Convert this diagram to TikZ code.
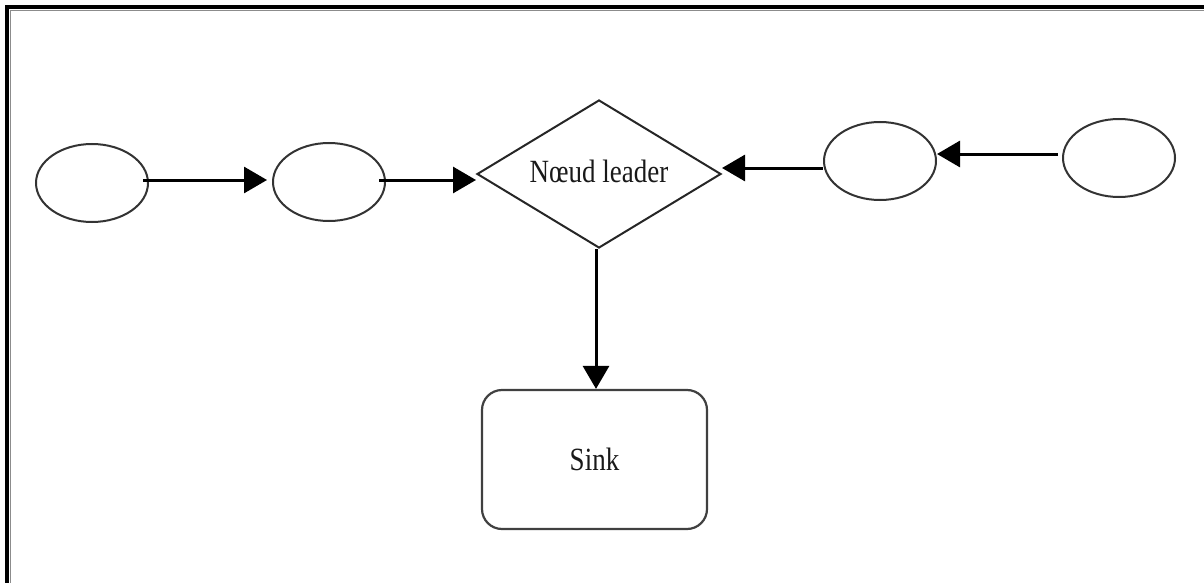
\documentclass[tikz,border=0pt]{standalone}
\usepackage{fontspec}
\usepackage{graphicx}
\setmainfont{Liberation Serif}
\usetikzlibrary{shapes.geometric,arrows.meta}
\begin{document}
\begin{tikzpicture}[x=0.5pt,y=-0.5pt,
  frameline/.style={line width=2pt,black},
  member/.style={ellipse,draw=black!80,line width=1pt,minimum width=56pt,minimum height=39pt,inner sep=0pt},
  leader/.style={diamond,draw=black!85,line width=1pt,minimum width=122pt,minimum height=74pt,aspect=1.65,inner sep=0pt},
  sinkbox/.style={rectangle,rounded corners=10pt,draw=black!75,line width=1.1pt,minimum width=112.5pt,minimum height=69.5pt},
  arr/.style={line width=1.5pt,-{Triangle[length=11.5pt,width=13pt]}},
  lbl/.style={font=\fontsize{13.5}{16}\selectfont,text=black!90}]
  \useasboundingbox (0,0) rectangle (1204,583);
  % frame on the top and left sides
  \draw[black!45,line width=0.6pt] (10.5,583) -- (10.5,10.5) -- (1204,10.5);
  \draw[frameline] (7,583) -- (7,7) -- (1204,7);

  % member nodes and leader
  \node[member] (e1) at (92,183) {};
  \node[member] (e2) at (329,182) {};
  \node[leader,lbl] (lead) at (599,174) {\raisebox{3pt}{\scalebox{1}[1.2]{Nœud leader}}};
  \node[member] (e3) at (880,161) {};
  \node[member] (e4) at (1119,158) {};
  \node[sinkbox,lbl] (sink) at (594.5,459.5) {\raisebox{-2pt}{\scalebox{1}[1.2]{Sink}}};

  % connections (shifts keep each arrow horizontal or vertical)
  \draw[arr] ([xshift=-3pt,yshift=1.5pt]e1.east) -- ([xshift=-2.5pt,yshift=1pt]e2.west);
  \draw[arr] ([xshift=-3.5pt,yshift=1pt]e2.east) -- ([yshift=-3pt]lead.west);
  \draw[arr] ([yshift=-3.5pt]e3.west) -- ([yshift=3pt]lead.east);
  \draw[arr] ([xshift=-2pt,yshift=2pt]e4.west) -- ([yshift=3.5pt]e3.east);
  \draw[arr] ([xshift=-1.5pt]lead.south) -- ([xshift=0.75pt]sink.north);
\end{tikzpicture}
\end{document}
